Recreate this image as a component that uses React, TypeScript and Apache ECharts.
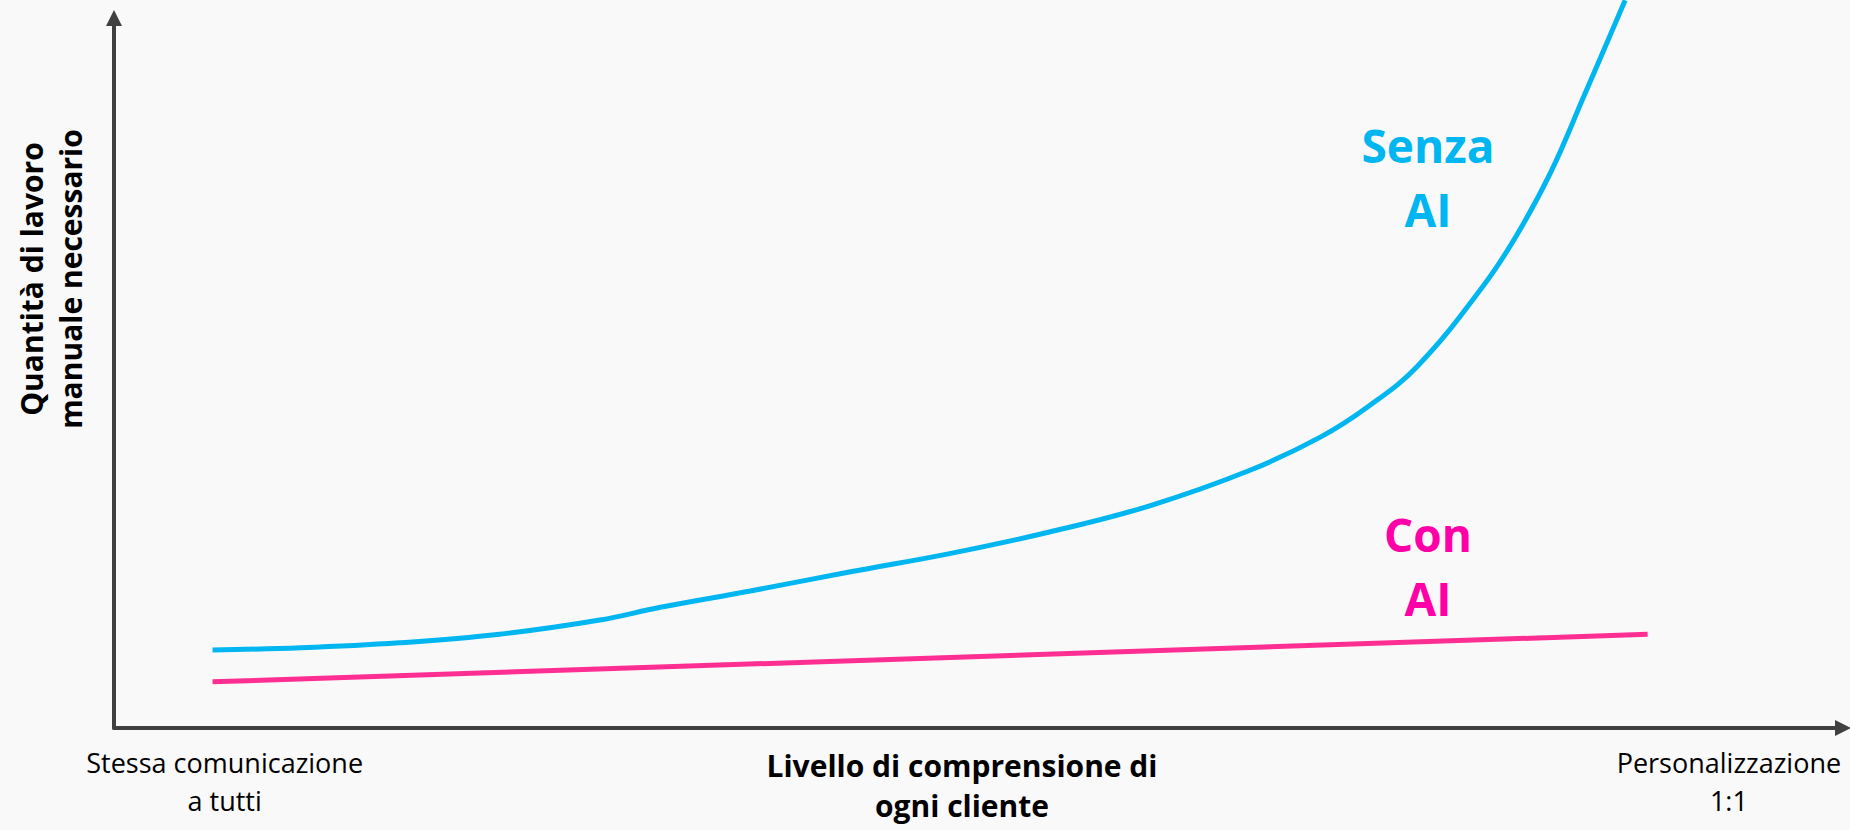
import React, { useEffect, useRef } from "react";
import * as echarts from "echarts";

// ---- Data ----
const xAxisTitle = "Livello di comprensione di\nogni cliente";
const yAxisTitle = "Quantità di lavoro\nmanuale necessario";
const xTickValues = [6.4, 93.4];
const xTickLabels = ["Stessa comunicazione\na tutti", "Personalizzazione\n1:1"];
const seriesNames = ["Senza AI", "Con AI"];
const seriesTitles = ["Senza\nAI", "Con\nAI"];

// x: level of understanding (0-100), y: manual work (0-100)
const senzaAI: [number, number][] = [
  [5.7, 11.0],
  [10.8, 11.3],
  [16.5, 12.0],
  [22.3, 13.2],
  [28.1, 15.2],
  [31.6, 17.0],
  [36.8, 19.3],
  [42.6, 22.0],
  [48.4, 24.6],
  [54.1, 27.6],
  [59.9, 31.3],
  [65.7, 36.3],
  [69.8, 41.0],
  [72.5, 45.2],
  [75.4, 51.0],
  [79.2, 62.3],
  [81.1, 69.3],
  [83.1, 78.3],
  [85.0, 88.9],
  [87.4, 102.5],
];
const conAI: [number, number][] = [
  [5.7, 6.5],
  [88.7, 13.2],
];

const FONT = "'Open Sans', 'Noto Sans', sans-serif";
const BLUE = "#00B6F0";
const PINK_LINE = "#FF2E93";
const PINK_TEXT = "#FF00A8";
const AXIS = "#404040";

export default function App() {
  const ref = useRef<HTMLDivElement>(null);

  useEffect(() => {
    if (!ref.current) return;
    const chart = echarts.init(ref.current, undefined, { renderer: "svg" });
    const axisLine = {
      show: true,
      symbol: ["none", "triangle"],
      symbolSize: [16, 16],
      lineStyle: { color: AXIS, width: 4 },
    };
    chart.setOption({
      animation: false,
      backgroundColor: "#F9F9F9",
      grid: {
        left: 114,
        right: 7,
        top: 18,
        bottom: 102,
        containLabel: false,
        outerBoundsMode: "none",
      },
      xAxis: {
        type: "value",
        min: 0,
        max: 100,
        axisLine,
        axisTick: { show: false },
        splitLine: { show: false },
        axisLabel: {
          show: true,
          customValues: xTickValues,
          formatter: (v: number) => {
            const i = xTickValues.indexOf(v);
            return i >= 0 ? xTickLabels[i] : "";
          },
          fontFamily: FONT,
          fontSize: 27,
          lineHeight: 38,
          color: "#000",
          margin: 15,
          hideOverlap: false,
        },
        name: xAxisTitle,
        nameLocation: "middle",
        nameGap: 17,
        nameMoveOverlap: false,
        nameTextStyle: {
          fontFamily: FONT,
          fontSize: 30,
          fontWeight: "bold",
          color: "#000",
          lineHeight: 40,
          padding: [0, 33, 0, 0],
        },
      },
      yAxis: {
        type: "value",
        min: 0,
        max: 100,
        axisLine,
        axisTick: { show: false },
        splitLine: { show: false },
        axisLabel: { show: false },
        name: yAxisTitle,
        nameLocation: "middle",
        nameRotate: 90,
        nameGap: 24,
        nameMoveOverlap: false,
        nameTextStyle: {
          fontFamily: FONT,
          fontSize: 30,
          fontWeight: "bold",
          color: "#000",
          lineHeight: 39,
          padding: [0, 0, 0, 188],
        },
      },
      series: [
        {
          name: seriesNames[0],
          type: "line",
          data: senzaAI,
          smooth: 0.4,
          symbol: "none",
          clip: false,
          lineStyle: { color: BLUE, width: 5 },
        },
        {
          name: seriesNames[1],
          type: "line",
          data: conAI,
          symbol: "none",
          clip: false,
          lineStyle: { color: PINK_LINE, width: 5 },
        },
      ],
      graphic: [
        {
          type: "text",
          x: 1428,
          y: 177,
          style: {
            text: seriesTitles[0],
            fill: BLUE,
            fontFamily: FONT,
            fontSize: 46,
            fontWeight: "bold",
            lineHeight: 64,
            textAlign: "center",
            textVerticalAlign: "middle",
          },
        },
        {
          type: "text",
          x: 1428,
          y: 566,
          style: {
            text: seriesTitles[1],
            fill: PINK_TEXT,
            fontFamily: FONT,
            fontSize: 46,
            fontWeight: "bold",
            lineHeight: 64,
            textAlign: "center",
            textVerticalAlign: "middle",
          },
        },
      ],
    });
    return () => chart.dispose();
  }, []);

  return (
    <div
      ref={ref}
      style={{ position: "fixed", left: 0, top: 0, width: 1850, height: 830 }}
    />
  );
}
